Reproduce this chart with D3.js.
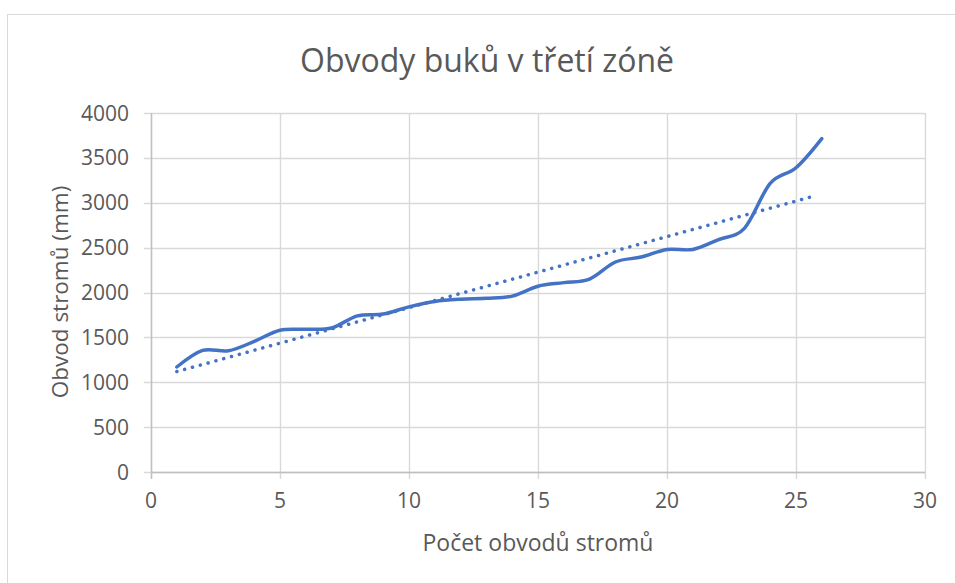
<!DOCTYPE html>
<html>
<head>
<meta charset="utf-8">
<script src="https://cdn.jsdelivr.net/npm/d3@7"></script>
<style>
	body{margin:0;background:#ffffff;}
	text{font-family:"Open Sans","DejaVu Sans",sans-serif;fill:#595959;}
</style>
</head>
<body>
<div id="ChartPart"></div>
<script>
// data
var TreeIndex = [1,2,3,4,5,6,7,8,9,10,11,12,13,14,15,16,17,18,19,20,21,22,23,24,25,26];
var TreeGirth = [1170,1355,1350,1455,1580,1590,1605,1740,1760,1840,1900,1925,1935,1960,2070,2110,2150,2340,2395,2480,2480,2590,2715,3215,3390,3715];
var XTicks = [0,5,10,15,20,25,30];
var YTicks = [0,500,1000,1500,2000,2500,3000,3500,4000];
var ChartTitle = "Obvody buků v třetí zóně";
var XTitle = "Počet obvodů stromů";
var YTitle = "Obvod stromů (mm)";

var SeriesColor = "#4472C4";
var GridColor = "#d9d9d9";

var Width = 955;
var Height = 583;

var Svg = d3.select("#ChartPart")
	.append("svg")
	.attr("width",Width)
	.attr("height",Height);

//chart border--------------------------------------------------------------------------
Svg.append("rect")
	.attr("x",7.5)
	.attr("y",14.5)
	.attr("width",Width)
	.attr("height",Height)
	.style("fill","none")
	.style("stroke",GridColor)
	.style("stroke-width",1);

var XScale = d3.scaleLinear().domain([0,30]).range([151,925]);
var YScale = d3.scaleLinear().domain([0,4000]).range([472,113]);

//grid lines------------------------------------------------------------------------------
Svg.append("g")
	.selectAll("line")
	.data(YTicks)
	.enter()
	.append("line")
	.attr("x1",XScale(0) - 7)
	.attr("x2",XScale(30))
	.attr("y1",function(d){ return Math.round(YScale(d)) + 0.5; })
	.attr("y2",function(d){ return Math.round(YScale(d)) + 0.5; })
	.style("stroke",GridColor)
	.style("stroke-width",1.4);

Svg.append("g")
	.selectAll("line")
	.data(XTicks)
	.enter()
	.append("line")
	.attr("x1",function(d){ return Math.round(XScale(d)) + 0.5; })
	.attr("x2",function(d){ return Math.round(XScale(d)) + 0.5; })
	.attr("y1",YScale(4000))
	.attr("y2",YScale(0) + 7)
	.style("stroke",GridColor)
	.style("stroke-width",1.4);

// axis lines a bit darker
Svg.append("line")
	.attr("x1",XScale(0)).attr("x2",XScale(30))
	.attr("y1",Math.round(YScale(0)) + 0.5).attr("y2",Math.round(YScale(0)) + 0.5)
	.style("stroke","#bfbfbf").style("stroke-width",1.4);
Svg.append("line")
	.attr("x1",Math.round(XScale(0)) + 0.5).attr("x2",Math.round(XScale(0)) + 0.5)
	.attr("y1",YScale(4000)).attr("y2",YScale(0) + 7)
	.style("stroke","#bfbfbf").style("stroke-width",1.4);

//tick labels-----------------------------------------------------------------------------
Svg.append("g")
	.selectAll("text")
	.data(YTicks)
	.enter()
	.append("text")
	.attr("x",129)
	.attr("y",function(d){ return YScale(d) + 7.5; })
	.attr("text-anchor","end")
	.style("font-size","21px")
	.text(function(d){ return d; });

Svg.append("g")
	.selectAll("text")
	.data(XTicks)
	.enter()
	.append("text")
	.attr("x",function(d){ return XScale(d); })
	.attr("y",508)
	.attr("text-anchor","middle")
	.style("font-size","21px")
	.text(function(d){ return d; });

//titles------------------------------------------------------------------------------------
Svg.append("text")
	.attr("x",487)
	.attr("y",72)
	.attr("text-anchor","middle")
	.style("font-size","32px")
	.text(ChartTitle);

Svg.append("text")
	.attr("x",538)
	.attr("y",551)
	.attr("text-anchor","middle")
	.style("font-size","23px")
	.text(XTitle);

Svg.append("text")
	.attr("transform","translate(68,292) rotate(-90)")
	.attr("text-anchor","middle")
	.style("font-size","22.5px")
	.text(YTitle);

//trend line (least squares)-----------------------------------------------------------------
var MeanX = d3.mean(TreeIndex);
var MeanY = d3.mean(TreeGirth);
var Sxy = 0, Sxx = 0;
for(var i=0;i<TreeIndex.length;i++)
	{
		Sxy = Sxy + (TreeIndex[i]-MeanX)*(TreeGirth[i]-MeanY);
		Sxx = Sxx + (TreeIndex[i]-MeanX)*(TreeIndex[i]-MeanX);
	}
var Slope = Sxy/Sxx;
var Intercept = MeanY - Slope*MeanX;
var TrendEnds = [TreeIndex[0], TreeIndex[TreeIndex.length-1] - 0.2];

Svg.append("line")
	.attr("x1",XScale(TrendEnds[0]))
	.attr("y1",YScale(Intercept + Slope*TrendEnds[0]))
	.attr("x2",XScale(TrendEnds[1]))
	.attr("y2",YScale(Intercept + Slope*TrendEnds[1]))
	.style("stroke",SeriesColor)
	.style("stroke-width",3.5)
	.style("stroke-linecap","round")
	.style("stroke-dasharray","0.1,8");

//smoothed series--------------------------------------------------------------------------
var SeriesLine = d3.line()
	.x(function(d,i){ return XScale(TreeIndex[i]); })
	.y(function(d){ return YScale(d); })
	.curve(d3.curveCardinal.tension(0));

Svg.append("path")
	.datum(TreeGirth)
	.attr("d",SeriesLine)
	.style("fill","none")
	.style("stroke",SeriesColor)
	.style("stroke-width",3.5)
	.style("stroke-linecap","round")
	.style("stroke-linejoin","round");
</script>
</body>
</html>
